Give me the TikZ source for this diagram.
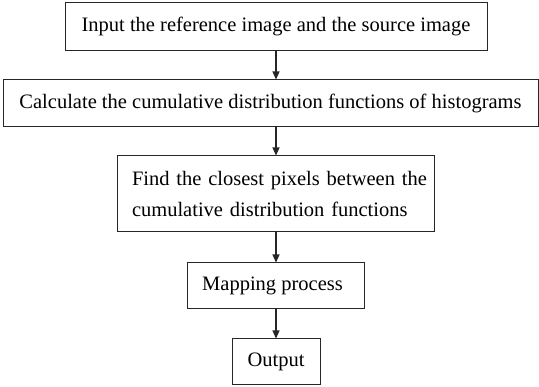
\documentclass[tikz,border=0pt]{standalone}
\usepackage{fontspec}
\setmainfont{Liberation Serif}
\usetikzlibrary{arrows.meta}
\begin{document}
\begin{tikzpicture}[x=1pt,y=1pt,
  box/.style={draw=black!85, line width=1pt, inner sep=0pt, font=\fontsize{20.5}{31.6}\selectfont},
  conn/.style={draw=black!85, line width=1.2pt, -{Triangle[width=7pt,length=8pt]}}]
\useasboundingbox (0,0) rectangle (539,387);
\node[box, minimum width=422pt, minimum height=48pt] (b1) at (276,360) {Input the reference image and the source image};
\node[box, minimum width=535pt, minimum height=47pt] (b2) at (270.5,283.5) {Calculate the cumulative distribution functions of histograms};
\node[box, minimum width=317pt, minimum height=76pt, text width=305pt, align=left] (b3) at (275.5,193) {\hspace*{9pt}Find the closest pixels between the\\\hspace*{9pt}cumulative distribution functions};
\node[box, minimum width=177pt, minimum height=46pt] (b4) at (275.5,101) {Mapping process\hspace*{6pt}};
\node[box, minimum width=88pt, minimum height=46pt] (b5) at (276,25) {Output};
\draw[conn] (b1.south -| b5) -- (b2.north -| b5);
\draw[conn] (b2.south -| b5) -- (b3.north -| b5);
\draw[conn] (b3.south -| b5) -- (b4.north -| b5);
\draw[conn] (b4.south -| b5) -- (b5.north);
\end{tikzpicture}
\end{document}
